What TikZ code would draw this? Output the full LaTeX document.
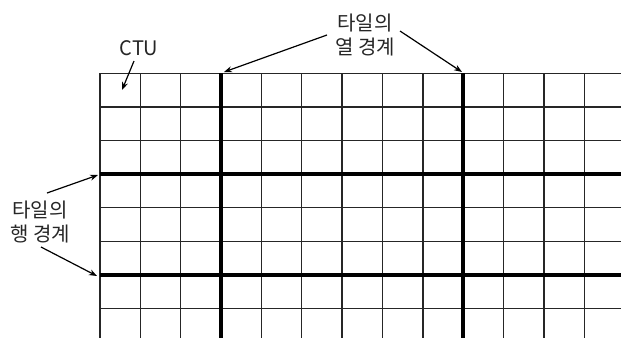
\documentclass[tikz,border=0pt]{standalone}
\usepackage{fontspec}
\setmainfont{Noto Sans CJK KR}
\usetikzlibrary{arrows.meta}
\begin{document}
\begin{tikzpicture}[x=1pt,y=-1pt,
  thin grid/.style={line width=1.4pt,black!85},
  thick grid/.style={line width=3.6pt,black},
  lbl/.style={font=\fontsize{20}{24}\selectfont,align=center,inner sep=0pt,text=black!85},
  pointer/.style={line width=1.2pt,-{Stealth[length=8pt,width=6pt]}}]
\useasboundingbox (0,0) rectangle (621,338);
\fill[white] (0,0) rectangle (621,338);
% thin grid
\foreach \i in {0,...,12}{
  \draw[thin grid] (100+40.35*\i,73.3) -- (100+40.35*\i,338);
}
\foreach \j in {0,...,7}{
  \draw[thin grid] (100,73.3+33.6*\j) -- (621,73.3+33.6*\j);
}
% tile boundaries
\draw[thick grid] (221.05,73.3) -- (221.05,338);
\draw[thick grid] (463.1,73.3) -- (463.1,338);
\draw[thick grid] (100,174.1) -- (621,174.1);
\draw[thick grid] (100,274.9) -- (621,274.9);
% labels
\node[lbl] (ctu) at (139,48) {CTU};
\node[lbl] (col) at (365,35) {타일의\\열 경계};
\node[lbl] (row) at (40,222) {타일의\\행 경계};
% arrow endpoints
\coordinate (ctuS) at (134,61);
\coordinate (ctuE) at (122,90);
\coordinate (colS1) at (327,35);
\coordinate (colE1) at (224,72);
\coordinate (colS2) at (400,31);
\coordinate (colE2) at (462,72);
\coordinate (rowS1) at (47,193);
\coordinate (rowE1) at (98,175);
\coordinate (rowS2) at (41,247);
\coordinate (rowE2) at (97,276);
\draw[pointer] (ctuS) -- (ctuE);
\draw[pointer] (colS1) -- (colE1);
\draw[pointer] (colS2) -- (colE2);
\draw[pointer] (rowS1) -- (rowE1);
\draw[pointer] (rowS2) -- (rowE2);
\end{tikzpicture}
\end{document}
